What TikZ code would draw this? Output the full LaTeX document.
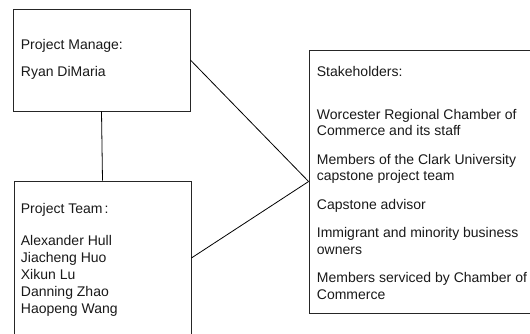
\documentclass[tikz,border=0pt]{standalone}
\usepackage{fontspec}
\setmainfont{Liberation Sans}
\begin{document}
\begin{tikzpicture}[x=1pt,y=-1pt,
  box/.style={draw=black!85, line width=0.8pt, inner sep=0pt, fill=none},
  txt/.style={anchor=base west, inner sep=0pt, font=\fontsize{14pt}{16.5pt}\selectfont, text=black!90},
  link/.style={draw=black, line width=0.8pt}]
\useasboundingbox (0,0) rectangle (530,333);
\begin{scope}
\clip (0,0) rectangle (530,333);
% boxes
\node[box, minimum width=177pt, minimum height=102pt] (pm) at (101.5,60) {};
\node[box, minimum width=177pt, minimum height=154pt] (team) at (102.5,258) {};
\node[box, minimum width=230pt, minimum height=263pt] (sh) at (424,181.5) {};
% connectors
\draw[link] (pm.south) -- (team.north);
\draw[link] (pm.east) -- (sh.west);
\draw[link] (team.east) -- (sh.west);
% project manager text
\node[txt] (pm1) at (20.7,49.5) {Project Manage:};
\node[txt] (pm2) at (20.7,76) {Ryan DiMaria};
% team text
\node[txt] (t0) at (20.7,213) {Project Team\hspace{2pt}:};
\node[txt] (t1) at (20.7,245.5) {Alexander Hull};
\node[txt] (t2) at (20.7,262.5) {Jiacheng Huo};
\node[txt] (t3) at (20.7,279.5) {Xikun Lu};
\node[txt] (t4) at (20.7,296.5) {Danning Zhao};
\node[txt] (t5) at (20.7,313.5) {Haopeng Wang};
% stakeholders text
\node[txt] (s0) at (316.7,76.7) {Stakeholders:};
\node[txt] (s1) at (316.7,119) {Worcester Regional Chamber of};
\node[txt] (s2) at (316.7,135.5) {Commerce and its staff};
\node[txt] (s3) at (316.7,164) {Members of the Clark University};
\node[txt] (s4) at (316.7,180.5) {capstone project team};
\node[txt] (s5) at (316.7,209) {Capstone advisor};
\node[txt] (s6) at (316.7,237.5) {Immigrant and minority business};
\node[txt] (s7) at (316.7,254) {owners};
\node[txt] (s8) at (316.7,282.5) {Members serviced by Chamber of};
\node[txt] (s9) at (316.7,299) {Commerce};
\end{scope}
\end{tikzpicture}
\end{document}
